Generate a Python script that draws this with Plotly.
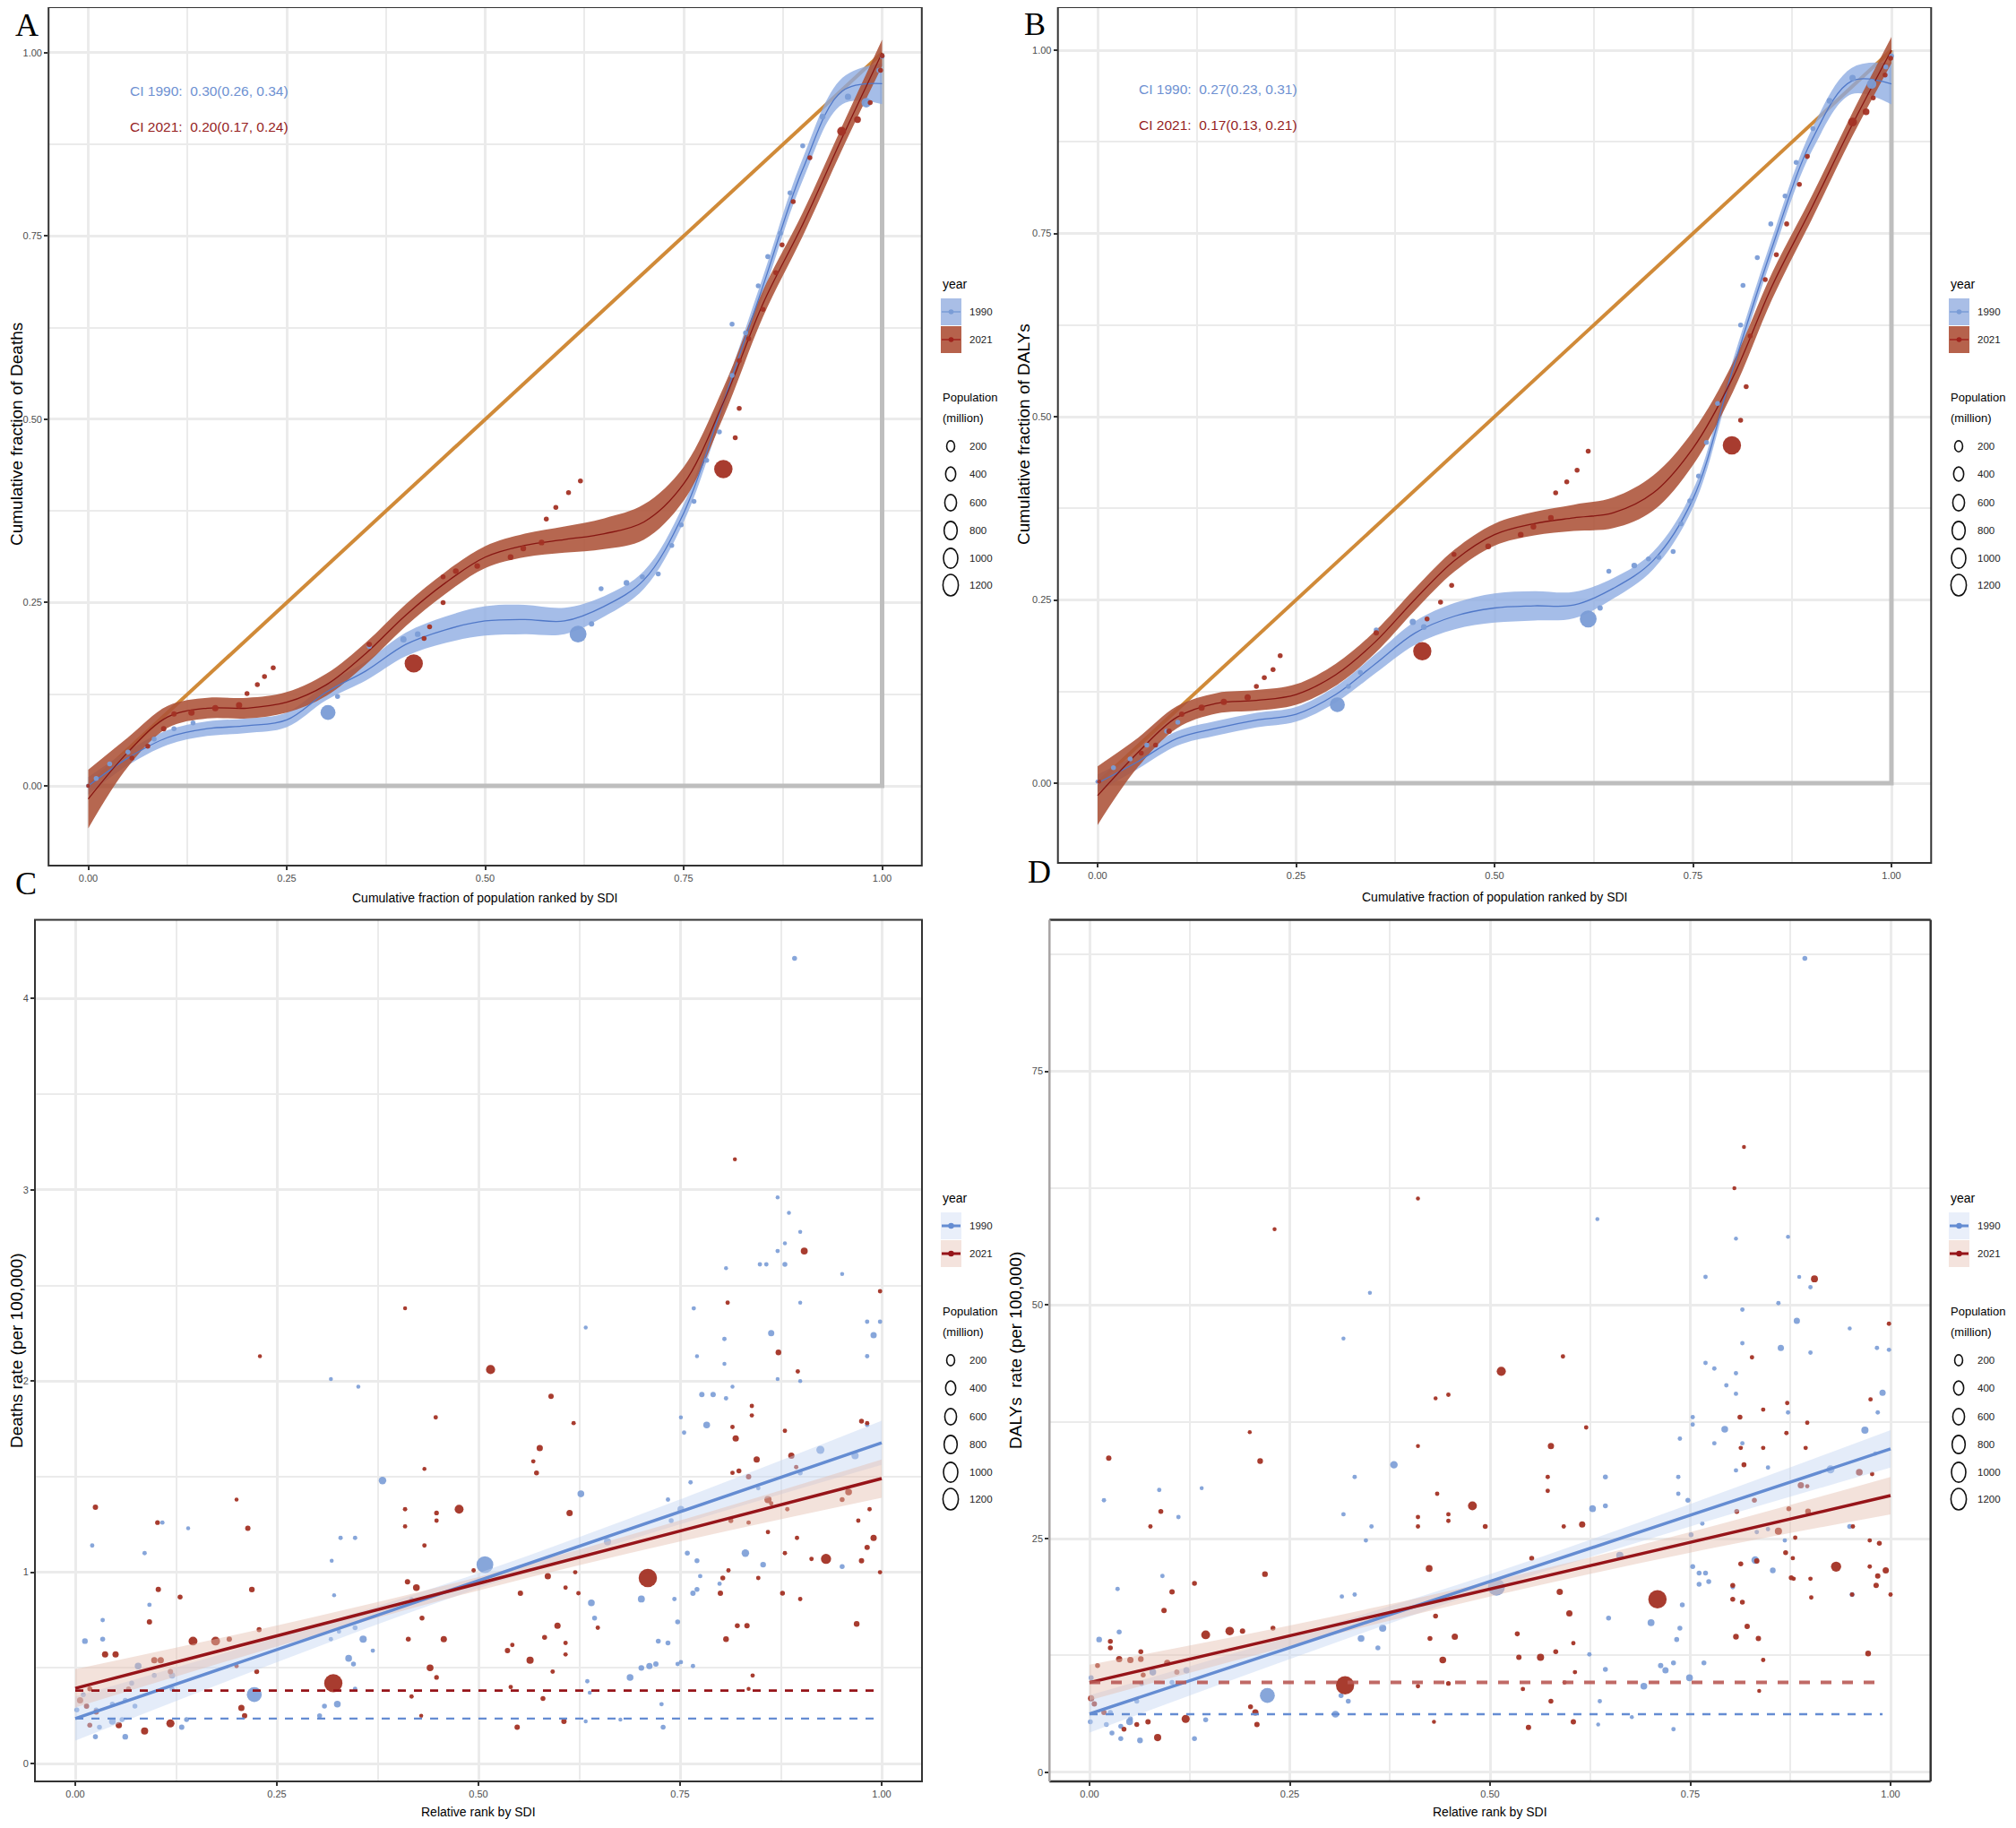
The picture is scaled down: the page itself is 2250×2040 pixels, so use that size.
import math
import plotly.graph_objects as go

W, H, OFF = 2234, 2024, 8
def px_x(p): return (p - OFF) / W
def px_y(p): return 1 - (p - OFF) / H

SANS = "Liberation Sans, Arial, sans-serif"
SERIF = "Liberation Serif, Times New Roman, serif"

# ---------------- DATA ----------------
years = ["1990", "2021"]
ci_text_a = ["CI 1990:\u00a0 0.30(0.26, 0.34)", "CI 2021:\u00a0 0.20(0.17, 0.24)"]
ci_text_b = ["CI 1990:\u00a0 0.27(0.23, 0.31)", "CI 2021:\u00a0 0.17(0.13, 0.21)"]
size_legend_pop = [200, 400, 600, 800, 1000, 1200]

equality_x = [0, 1]
equality_y = [0, 1]
frame_x = [0, 1, 1]
frame_y = [0, 0, 1]

fit_grid = [0.00, 0.05, 0.10, 0.15, 0.20, 0.25, 0.30, 0.35, 0.40, 0.45, 0.50,
            0.55, 0.60, 0.65, 0.70, 0.75, 0.80, 0.85, 0.90, 0.95, 1.00]
a_fit_1990 = [0.000, 0.038, 0.066, 0.078, 0.082, 0.090, 0.128, 0.157, 0.193, 0.213, 0.225,
              0.227, 0.225, 0.245, 0.281, 0.372, 0.523, 0.682, 0.841, 0.948, 0.958]
a_half_1990 = [0.012, 0.010, 0.010, 0.010, 0.010, 0.010, 0.011, 0.013, 0.016, 0.018, 0.020,
               0.020, 0.018, 0.014, 0.012, 0.012, 0.012, 0.013, 0.015, 0.018, 0.028]
a_fit_2021 = [-0.018, 0.046, 0.094, 0.106, 0.106, 0.114, 0.138, 0.181, 0.233, 0.277, 0.312,
              0.328, 0.336, 0.344, 0.360, 0.412, 0.523, 0.658, 0.766, 0.885, 1.000]
a_half_2021 = [0.040, 0.020, 0.015, 0.014, 0.014, 0.014, 0.015, 0.015, 0.015, 0.015, 0.015,
               0.016, 0.018, 0.021, 0.024, 0.023, 0.020, 0.018, 0.016, 0.016, 0.018]
b_fit_1990 = [0.000, 0.029, 0.061, 0.075, 0.086, 0.094, 0.121, 0.163, 0.205, 0.228, 0.239,
              0.242, 0.243, 0.266, 0.304, 0.388, 0.564, 0.732, 0.878, 0.958, 0.954]
b_half_1990 = a_half_1990
b_fit_2021 = [-0.017, 0.041, 0.090, 0.109, 0.113, 0.121, 0.148, 0.193, 0.251, 0.304, 0.339,
              0.354, 0.362, 0.369, 0.396, 0.457, 0.553, 0.679, 0.786, 0.897, 1.000]
b_half_2021 = a_half_2021

a_1990_x = [0.0, 0.01, 0.027, 0.05, 0.083, 0.108, 0.132, 0.302, 0.314, 0.354, 0.397, 0.415, 0.617, 0.634,
            0.646, 0.678, 0.698, 0.718, 0.735, 0.747, 0.763, 0.779, 0.795, 0.811, 0.811, 0.828, 0.844,
            0.856, 0.872, 0.884, 0.9, 0.925, 0.957, 0.98, 0.996, 1.0]
a_1990_y = [0.0, 0.01, 0.03, 0.046, 0.064, 0.078, 0.086, 0.1, 0.122, 0.19, 0.2, 0.207, 0.207, 0.221,
            0.269, 0.277, 0.285, 0.289, 0.328, 0.356, 0.388, 0.444, 0.483, 0.56, 0.63, 0.618, 0.682,
            0.722, 0.754, 0.809, 0.873, 0.913, 0.94, 0.932, 0.976, 0.995]
a_1990_pop = [10, 20, 20, 20, 20, 20, 20, 850, 20, 20, 60, 40, 1150, 30, 20, 40, 20, 20, 20, 20, 20,
              20, 20, 20, 20, 20, 20, 20, 20, 20, 20, 40, 60, 250, 20, 20]
a_2021_x = [0.0, 0.055, 0.075, 0.095, 0.108, 0.13, 0.16, 0.19, 0.2, 0.213, 0.222, 0.233, 0.354, 0.41,
            0.423, 0.43, 0.447, 0.447, 0.463, 0.49, 0.532, 0.548, 0.571, 0.577, 0.589, 0.605, 0.62,
            0.80, 0.815, 0.82, 0.82, 0.832, 0.85, 0.866, 0.874, 0.888, 0.909, 0.949, 0.969, 0.985,
            0.998, 1.0]
a_2021_y = [0.0, 0.038, 0.054, 0.078, 0.098, 0.1, 0.106, 0.11, 0.126, 0.138, 0.149, 0.161, 0.193, 0.167,
            0.201, 0.217, 0.25, 0.285, 0.293, 0.3, 0.312, 0.324, 0.332, 0.364, 0.38, 0.4, 0.416,
            0.432, 0.475, 0.515, 0.58, 0.61, 0.65, 0.70, 0.738, 0.797, 0.857, 0.893, 0.909, 0.932,
            0.976, 0.996]
a_2021_pop = [5, 20, 20, 30, 30, 60, 60, 60, 20, 20, 20, 20, 30, 1400, 20, 20, 20, 20, 40, 40, 40, 40,
              40, 20, 20, 20, 20, 1420, 20, 20, 20, 20, 20, 20, 20, 20, 20, 200, 80, 20, 20, 20]

b_1990_x = [0.0, 0.02, 0.041, 0.062, 0.087, 0.101, 0.302, 0.316, 0.331, 0.351, 0.397, 0.411, 0.618,
            0.633, 0.644, 0.676, 0.694, 0.707, 0.725, 0.735, 0.746, 0.757, 0.767, 0.781, 0.81, 0.813,
            0.831, 0.848, 0.866, 0.88, 0.901, 0.922, 0.951, 0.975, 0.993, 1.0]
b_1990_y = [0.002, 0.021, 0.033, 0.052, 0.071, 0.083, 0.107, 0.132, 0.151, 0.209, 0.22, 0.213, 0.224,
            0.239, 0.289, 0.297, 0.306, 0.308, 0.316, 0.354, 0.385, 0.419, 0.465, 0.518, 0.625, 0.679,
            0.717, 0.763, 0.801, 0.847, 0.893, 0.931, 0.962, 0.954, 0.977, 0.992]
b_1990_pop = [10, 20, 20, 20, 20, 20, 850, 20, 20, 20, 60, 40, 1150, 30, 20, 40, 20, 20, 20, 20, 20,
              20, 20, 20, 20, 20, 20, 20, 20, 20, 20, 40, 60, 250, 20, 20]
b_2021_x = [0.002, 0.055, 0.073, 0.09, 0.106, 0.131, 0.159, 0.189, 0.2, 0.21, 0.221, 0.23, 0.351, 0.409,
            0.415, 0.432, 0.446, 0.449, 0.492, 0.533, 0.549, 0.571, 0.577, 0.591, 0.604, 0.618, 0.799,
            0.81, 0.817, 0.822, 0.841, 0.855, 0.868, 0.884, 0.894, 0.951, 0.968, 0.977, 0.992, 0.999]
b_2021_y = [0.002, 0.041, 0.052, 0.071, 0.094, 0.103, 0.111, 0.117, 0.132, 0.144, 0.155, 0.174, 0.205,
            0.18, 0.224, 0.247, 0.27, 0.312, 0.323, 0.339, 0.35, 0.362, 0.396, 0.411, 0.427, 0.453,
            0.461, 0.495, 0.541, 0.61, 0.687, 0.721, 0.763, 0.817, 0.855, 0.902, 0.916, 0.935, 0.966,
            0.989]
b_2021_pop = [5, 20, 20, 30, 30, 60, 60, 60, 20, 20, 20, 20, 30, 1400, 20, 20, 20, 20, 40, 40, 40, 40,
              20, 20, 20, 20, 1420, 20, 20, 20, 20, 20, 20, 20, 20, 200, 80, 20, 20, 20]

# Panel C: deaths rate vs relative SDI rank
c_2021_x = [0.025, 0.102, 0.214, 0.2, 0.229, 0.409, 0.515, 0.447, 0.818, 0.904, 0.872, 0.896, 0.809, 0.998,
            0.59, 0.618, 0.576, 0.572, 0.568, 0.476, 0.613, 0.448, 0.448, 0.409, 0.409, 0.433, 0.433, 0.103,
            0.13, 0.219, 0.412, 0.423, 0.494, 0.586, 0.552, 0.608, 0.624, 0.71, 0.32, 0.146, 0.174, 0.191,
            0.037, 0.05, 0.092, 0.098, 0.106, 0.118, 0.066, 0.018, 0.006, 0.014, 0.026, 0.018, 0.054, 0.086,
            0.118, 0.206, 0.21, 0.225, 0.228, 0.2, 0.413, 0.43, 0.457, 0.44, 0.448, 0.417, 0.429, 0.536,
            0.542, 0.564, 0.582, 0.592, 0.58, 0.598, 0.608, 0.608, 0.606, 0.548, 0.54, 0.807, 0.821, 0.833,
            0.803, 0.81, 0.8, 0.835, 0.813, 0.859, 0.847, 0.877, 0.899, 0.88, 0.895, 0.913, 0.931, 0.951,
            0.959, 0.971, 0.975, 0.982, 0.99, 0.969, 0.998, 0.985, 0.975, 0.982, 0.835, 0.84, 0.894, 0.888,
            0.88, 0.819, 0.815, 0.823, 0.835, 0.845, 0.815, 0.839, 0.839, 0.863, 0.859, 0.883, 0.648, 0.62]
c_2021_y = [1.34, 1.26, 1.23, 1.38, 2.13, 2.38, 2.06, 1.81, 3.16, 2.68, 2.15, 2.05, 2.41, 2.47,
            1.92, 1.78, 1.65, 1.52, 1.58, 1.33, 1.31, 1.31, 1.27, 1.33, 1.24, 1.54, 1.14, 0.91,
            0.87, 0.91, 0.95, 0.92, 1.01, 0.98, 0.89, 0.92, 0.89, 0.97, 0.42, 0.64, 0.64, 0.65,
            0.57, 0.57, 0.74, 0.54, 0.54, 0.48, 0.39, 0.39, 0.33, 0.30, 0.27, 0.20, 0.20, 0.17,
            0.21, 0.29, 0.25, 0.48, 0.70, 0.51, 0.65, 0.76, 0.65, 0.50, 0.45, 0.35, 0.25, 0.59,
            0.62, 0.54, 0.66, 0.48, 0.34, 0.72, 0.63, 0.57, 0.22, 0.19, 0.40, 0.65, 0.72, 0.72,
            0.97, 1.01, 0.89, 1.26, 1.27, 1.38, 0.97, 0.89, 0.86, 1.10, 1.18, 1.07, 1.07, 1.38,
            1.42, 1.27, 1.06, 1.13, 1.18, 0.73, 1.00, 1.33, 1.79, 1.78, 0.39, 0.46, 1.55, 1.61,
            1.74, 1.70, 1.76, 1.53, 1.50, 1.59, 1.52, 1.82, 1.87, 1.36, 1.21, 1.33, 0.71, 1.00]
c_2021_pop = [30, 15, 30, 5, 5, 5, 220, 10, 5, 90, 40, 10, 10, 10,
              30, 10, 60, 20, 10, 200, 60, 15, 10, 10, 10, 5, 10, 30,
              20, 40, 30, 80, 10, 60, 30, 10, 10, 1420, 1400, 200, 200, 30,
              60, 60, 30, 60, 60, 30, 20, 20, 60, 30, 30, 20, 60, 100,
              150, 60, 30, 20, 20, 10, 20, 20, 60, 80, 15, 10, 5, 30,
              10, 100, 20, 10, 20, 60, 10, 10, 30, 30, 10, 40, 20, 30,
              20, 10, 30, 10, 20, 100, 10, 20, 10, 10, 10, 10, 300, 20,
              80, 10, 30, 30, 60, 40, 10, 10, 20, 10, 5, 10, 10, 60,
              10, 60, 10, 20, 30, 60, 10, 10, 10, 10, 10, 10, 10, 10]

c_1990_x = [0.892, 0.871, 0.885, 0.899, 0.88, 0.871, 0.857, 0.849, 0.88, 0.807, 0.951, 0.899, 0.767, 0.982,
            0.998, 0.99, 0.863, 0.633, 0.805, 0.771, 0.982, 0.805, 0.317, 0.351, 0.871, 0.899, 0.777, 0.791,
            0.807, 0.815, 0.751, 0.755, 0.783, 0.982, 0.924, 0.967, 0.899, 0.381, 0.763, 0.751, 0.735, 0.739,
            0.847, 0.627, 0.66, 0.508, 0.329, 0.347, 0.318, 0.831, 0.853, 0.759, 0.771, 0.951, 0.775, 0.799,
            0.766, 0.771, 0.702, 0.64, 0.644, 0.743, 0.747, 0.735, 0.723, 0.72, 0.702, 0.712, 0.747, 0.751,
            0.766, 0.688, 0.727, 0.729, 0.676, 0.633, 0.635, 0.638, 0.347, 0.325, 0.309, 0.303, 0.222, 0.339,
            0.357, 0.345, 0.347, 0.317, 0.327, 0.321, 0.369, 0.417, 0.012, 0.021, 0.034, 0.034, 0.086, 0.108,
            0.14, 0.092, 0.078, 0.098, 0.12, 0.07, 0.062, 0.058, 0.046, 0.03, 0.025, 0.01, 0.026, 0.046,
            0.062, 0.074, 0.002, 0.138, 0.132, 0.12]
c_1990_y = [4.21, 2.96, 2.88, 2.78, 2.72, 2.68, 2.61, 2.61, 2.61, 2.59, 2.56, 2.41, 2.38, 2.31,
            2.31, 2.24, 2.25, 2.28, 2.22, 2.13, 2.13, 2.09, 2.01, 1.97, 2.01, 2.00, 1.93, 1.93,
            1.91, 1.97, 1.81, 1.73, 1.77, 1.77, 1.64, 1.61, 1.52, 1.48, 1.47, 1.33, 1.38, 1.27,
            1.44, 1.41, 1.16, 1.04, 1.18, 1.18, 1.06, 1.10, 1.04, 1.10, 1.06, 1.03, 0.98, 0.94,
            0.89, 0.91, 0.86, 0.84, 0.76, 0.86, 0.74, 0.63, 0.64, 0.52, 0.50, 0.51, 0.52, 0.53,
            0.51, 0.45, 0.31, 0.19, 0.23, 0.22, 0.43, 0.37, 0.39, 0.31, 0.30, 0.25, 0.36, 0.55,
            0.65, 0.52, 0.71, 0.65, 0.69, 0.88, 0.59, 0.86, 0.64, 1.14, 0.65, 0.75, 1.10, 1.26,
            1.23, 0.83, 0.51, 0.46, 0.46, 0.42, 0.33, 0.23, 0.22, 0.19, 0.14, 0.36, 0.28, 0.31,
            0.14, 0.30, 0.28, 0.23, 0.19, 0.39]
c_1990_pop = [20, 5, 5, 5, 5, 10, 10, 10, 20, 5, 5, 5, 10, 10,
              10, 60, 60, 5, 10, 5, 10, 5, 5, 5, 5, 5, 30, 30,
              10, 5, 5, 10, 80, 10, 150, 100, 20, 120, 10, 80, 10, 20,
              10, 80, 100, 1150, 10, 10, 5, 120, 40, 20, 20, 20, 10, 10,
              30, 20, 90, 80, 20, 10, 20, 20, 20, 30, 40, 60, 10, 10,
              10, 80, 10, 20, 5, 5, 10, 5, 10, 80, 20, 20, 850, 80,
              100, 20, 20, 10, 10, 5, 10, 5, 40, 10, 20, 10, 10, 10,
              5, 10, 80, 20, 60, 20, 20, 20, 80, 20, 20, 20, 20, 20,
              40, 20, 20, 20, 30, 20]

# Panel D: DALYs rate vs relative SDI rank
d_2021_x = [0.817, 0.805, 0.41, 0.231, 0.905, 0.514, 0.591, 0.998, 0.827, 0.812, 0.871, 0.975, 0.432, 0.448,
            0.841, 0.2, 0.213, 0.024, 0.576, 0.62, 0.41, 0.896, 0.87, 0.813, 0.841, 0.894, 0.817, 0.961,
            0.977, 0.572, 0.572, 0.888, 0.896, 0.83, 0.808, 0.873, 0.897, 0.478, 0.434, 0.448, 0.448, 0.41,
            0.41, 0.494, 0.615, 0.592, 0.089, 0.076, 0.86, 0.869, 0.881, 0.974, 0.986, 0.953, 0.424, 0.552,
            0.932, 0.994, 0.984, 0.974, 0.879, 0.9, 0.878, 0.833, 0.813, 0.803, 0.982, 1.0, 0.952, 0.901,
            0.709, 0.319, 0.145, 0.175, 0.191, 0.229, 0.131, 0.103, 0.093, 0.219, 0.037, 0.051, 0.064, 0.064,
            0.026, 0.026, 0.097, 0.109, 0.067, 0.01, 0.002, 0.006, 0.018, 0.043, 0.059, 0.073, 0.085, 0.12,
            0.207, 0.209, 0.201, 0.425, 0.432, 0.456, 0.441, 0.41, 0.43, 0.448, 0.534, 0.536, 0.541, 0.548,
            0.563, 0.582, 0.576, 0.587, 0.599, 0.604, 0.606, 0.604, 0.593, 0.807, 0.821, 0.835, 0.803, 0.815,
            0.836, 0.841, 0.876, 0.972]
d_2021_y = [66.9, 62.5, 61.4, 58.1, 52.8, 42.9, 44.5, 48.0, 44.4, 38.0, 39.5, 39.9, 40.0, 40.4,
            38.8, 36.4, 33.3, 33.6, 34.9, 36.9, 34.9, 37.4, 36.3, 34.7, 34.7, 34.7, 32.9, 32.1,
            31.9, 31.6, 30.1, 30.7, 30.6, 29.1, 27.9, 28.2, 27.9, 28.5, 29.8, 27.6, 26.9, 27.3,
            26.3, 26.3, 26.5, 26.3, 27.9, 26.3, 25.8, 23.5, 25.1, 24.8, 24.5, 26.3, 21.8, 22.9,
            22.0, 21.6, 21.0, 22.0, 20.7, 20.7, 22.9, 22.6, 22.3, 20.0, 20.0, 19.0, 19.0, 18.7,
            18.5, 9.3, 14.7, 15.1, 15.1, 15.4, 20.2, 19.3, 17.3, 21.2, 12.1, 12.0, 12.1, 12.9,
            14.0, 13.3, 11.7, 10.7, 10.4, 11.4, 7.9, 7.3, 6.4, 4.6, 5.1, 5.4, 3.7, 5.7,
            6.4, 5.1, 7.0, 14.3, 16.7, 14.5, 12.0, 9.2, 5.4, 9.5, 14.8, 12.3, 8.9, 4.8,
            12.3, 12.9, 7.6, 19.3, 17.0, 13.8, 10.7, 5.4, 9.6, 14.5, 15.6, 14.3, 18.5, 18.2,
            8.7, 12.0, 20.8, 12.7]
d_2021_pop = [5, 5, 5, 5, 90, 220, 10, 10, 10, 20, 10, 10, 5, 10,
              10, 5, 40, 30, 60, 10, 5, 10, 10, 10, 10, 10, 20, 80,
              10, 10, 10, 60, 10, 20, 20, 20, 40, 200, 10, 10, 10, 10,
              10, 20, 60, 10, 20, 10, 100, 20, 10, 10, 20, 10, 80, 20,
              300, 60, 30, 10, 10, 10, 10, 30, 20, 20, 30, 10, 10, 10,
              1420, 1400, 200, 180, 30, 20, 20, 30, 30, 40, 60, 60, 40, 20,
              20, 20, 60, 30, 20, 20, 60, 30, 30, 20, 20, 30, 100, 150,
              60, 30, 20, 20, 20, 60, 80, 10, 5, 15, 20, 30, 10, 30,
              100, 20, 20, 60, 60, 10, 10, 30, 10, 40, 30, 30, 20, 20,
              5, 10, 20, 40]

d_1990_x = [0.893, 0.872, 0.807, 0.886, 0.9, 0.634, 0.769, 0.86, 0.815, 0.35, 0.883, 0.815, 0.863, 0.9,
            0.949, 0.983, 0.998, 0.317, 0.769, 0.78, 0.99, 0.807, 0.795, 0.807, 0.872, 0.984, 0.968, 0.793,
            0.753, 0.753, 0.78, 0.815, 0.737, 0.925, 0.38, 0.981, 0.807, 0.847, 0.735, 0.735, 0.747, 0.331,
            0.628, 0.644, 0.644, 0.765, 0.751, 0.949, 0.847, 0.833, 0.868, 0.662, 0.831, 0.853, 0.753, 0.761,
            0.769, 0.773, 0.761, 0.803, 0.952, 0.508, 0.317, 0.315, 0.331, 0.352, 0.345, 0.339, 0.366, 0.36,
            0.314, 0.307, 0.323, 0.222, 0.701, 0.74, 0.737, 0.733, 0.719, 0.713, 0.729, 0.749, 0.767, 0.692,
            0.637, 0.635, 0.677, 0.729, 0.648, 0.624, 0.644, 0.012, 0.018, 0.035, 0.037, 0.087, 0.111, 0.14,
            0.091, 0.079, 0.121, 0.103, 0.065, 0.059, 0.051, 0.05, 0.039, 0.028, 0.021, 0.001, 0.002, 0.026,
            0.063, 0.039, 0.131, 0.145]
d_1990_y = [87.1, 57.3, 57.1, 53.0, 51.9, 59.2, 53.0, 50.2, 49.5, 51.3, 48.3, 45.9, 45.4, 44.9,
            47.5, 45.4, 45.2, 46.4, 43.8, 43.2, 40.6, 40.5, 41.4, 42.7, 38.5, 38.5, 36.6, 36.7,
            38.0, 37.2, 35.2, 35.2, 35.7, 32.4, 32.9, 34.1, 32.3, 32.6, 31.6, 29.8, 29.1, 31.6,
            28.2, 31.6, 28.5, 26.6, 25.4, 26.3, 26.0, 25.7, 24.8, 23.2, 22.7, 21.6, 22.0, 21.3,
            21.3, 20.4, 20.1, 19.8, 19.0, 19.8, 27.6, 18.8, 19.0, 26.3, 24.8, 14.3, 15.4, 13.3,
            8.2, 6.2, 7.6, 8.2, 16.0, 17.9, 15.4, 14.2, 10.9, 11.4, 11.7, 10.1, 11.7, 9.2,
            7.6, 5.1, 5.9, 4.6, 16.5, 12.6, 11.0, 14.2, 29.1, 19.6, 15.0, 30.2, 27.3, 30.4,
            21.0, 10.7, 10.9, 9.6, 9.5, 7.6, 5.7, 5.4, 4.9, 4.2, 5.1, 5.4, 10.1, 6.4,
            3.4, 3.6, 3.6, 5.6]
d_1990_pop = [20, 5, 5, 5, 10, 5, 10, 10, 10, 5, 60, 10, 60, 10,
              5, 10, 10, 5, 10, 10, 60, 10, 10, 10, 10, 10, 100, 80,
              10, 10, 10, 10, 10, 150, 120, 10, 10, 10, 10, 10, 20, 10,
              80, 20, 20, 10, 20, 20, 10, 10, 10, 100, 120, 40, 20, 20,
              20, 20, 20, 10, 20, 1150, 10, 10, 10, 10, 10, 80, 100, 20,
              20, 80, 20, 850, 90, 20, 20, 20, 60, 30, 20, 80, 20, 80,
              10, 5, 5, 10, 20, 10, 20, 40, 10, 10, 20, 10, 10, 5,
              10, 80, 60, 20, 20, 20, 20, 80, 20, 20, 20, 20, 20, 20,
              40, 20, 20, 20]

# linear fits
lin_grid = [0.0, 0.25, 0.5, 0.75, 1.0]
c_lin_1990 = [0.235, 0.595, 0.956, 1.316, 1.677]
c_lhalf_1990 = [0.115, 0.065, 0.040, 0.065, 0.115]
c_lin_2021 = [0.393, 0.667, 0.940, 1.216, 1.490]
c_lhalf_2021 = [0.100, 0.055, 0.035, 0.055, 0.100]
d_lin_1990 = [6.24, 13.3, 20.4, 27.5, 34.6]
d_lhalf_1990 = [2.0, 1.2, 0.8, 1.2, 2.0]
d_lin_2021 = [9.6, 14.6, 19.6, 24.6, 29.6]
d_lhalf_2021 = [1.9, 1.1, 0.8, 1.1, 2.0]
ref_x = [0.0, 0.99]
c_ref_1990 = [0.235, 0.235]
c_ref_2021 = [0.381, 0.381]
d_ref_1990 = [6.2, 6.2]
d_ref_2021 = [9.6, 9.6]

# ---------------- STYLE ----------------
BLUE_PT = "rgb(122,156,214)"
RED_PT = "rgb(163,50,36)"
BLUE_RIB_A = "rgba(140,170,226,0.78)"
RED_RIB_A = "rgba(172,82,56,0.88)"
BLUE_LINE_A = "rgb(80,120,200)"
RED_LINE_A = "rgb(135,22,18)"
BLUE_RIB_C = "rgba(195,212,242,0.45)"
RED_RIB_C = "rgba(228,190,176,0.45)"
BLUE_LINE_C = "rgb(100,140,210)"
RED_LINE_C = "rgb(150,20,25)"
DIAG = "rgb(208,138,56)"
FRAME = "rgb(190,190,190)"

def msize(p):
    return 3.5 + 17.0 * math.sqrt(p / 1420.0)

fig = go.Figure()

def band(xa, ya, xs, fit, half, fill, shape):
    up = [f + h for f, h in zip(fit, half)]
    lo = [f - h for f, h in zip(fit, half)]
    fig.add_trace(go.Scatter(x=xs, y=lo, mode="lines", line=dict(width=0, shape=shape),
                             hoverinfo="skip", showlegend=False, xaxis=xa, yaxis=ya))
    fig.add_trace(go.Scatter(x=xs, y=up, mode="lines", line=dict(width=0, shape=shape), fill="tonexty",
                             fillcolor=fill, hoverinfo="skip", showlegend=False, xaxis=xa, yaxis=ya))

def line(xa, ya, xs, ys, color, width, dash="solid", shape="linear"):
    fig.add_trace(go.Scatter(x=xs, y=ys, mode="lines", line=dict(color=color, width=width, dash=dash, shape=shape),
                             hoverinfo="skip", showlegend=False, xaxis=xa, yaxis=ya))

def pts(xa, ya, xs, ys, pops, color, op=0.95):
    fig.add_trace(go.Scatter(x=xs, y=ys, mode="markers",
                             marker=dict(size=[msize(p) for p in pops], color=color, opacity=op, line=dict(width=0)),
                             showlegend=False, xaxis=xa, yaxis=ya))

# Panels A & B (concentration curves)
for xa, ya, f90, h90, f21, h21, d90, d21 in [
    ("x", "y", a_fit_1990, a_half_1990, a_fit_2021, a_half_2021,
     (a_1990_x, a_1990_y, a_1990_pop), (a_2021_x, a_2021_y, a_2021_pop)),
    ("x2", "y2", b_fit_1990, b_half_1990, b_fit_2021, b_half_2021,
     (b_1990_x, b_1990_y, b_1990_pop), (b_2021_x, b_2021_y, b_2021_pop))]:
    line(xa, ya, frame_x, frame_y, FRAME, 5)
    line(xa, ya, equality_x, equality_y, DIAG, 4)
    band(xa, ya, fit_grid, f90, h90, BLUE_RIB_A, "spline")
    band(xa, ya, fit_grid, f21, h21, RED_RIB_A, "spline")
    line(xa, ya, fit_grid, f90, BLUE_LINE_A, 1.3, shape="spline")
    line(xa, ya, fit_grid, f21, RED_LINE_A, 1.3, shape="spline")
    pts(xa, ya, *d90, BLUE_PT)
    pts(xa, ya, *d21, RED_PT)

# Panels C & D (regression)
for xa, ya, d90, d21, l90, lh90, l21, lh21, r90, r21, dw in [
    ("x3", "y3", (c_1990_x, c_1990_y, c_1990_pop), (c_2021_x, c_2021_y, c_2021_pop),
     c_lin_1990, c_lhalf_1990, c_lin_2021, c_lhalf_2021, c_ref_1990, c_ref_2021, (2.2, 2.8)),
    ("x4", "y4", (d_1990_x, d_1990_y, d_1990_pop), (d_2021_x, d_2021_y, d_2021_pop),
     d_lin_1990, d_lhalf_1990, d_lin_2021, d_lhalf_2021, d_ref_1990, d_ref_2021, (2.6, 4.0))]:
    pts(xa, ya, *d90, BLUE_PT, 0.9)
    pts(xa, ya, *d21, RED_PT, 0.95)
    band(xa, ya, lin_grid, l90, lh90, BLUE_RIB_C, "spline")
    band(xa, ya, lin_grid, l21, lh21, RED_RIB_C, "spline")
    line(xa, ya, lin_grid, l90, BLUE_LINE_C, 3.5)
    line(xa, ya, lin_grid, l21, RED_LINE_C, 3.5)
    red_dash = RED_LINE_C if xa == "x3" else "rgba(185,90,85,0.9)"
    line(xa, ya, ref_x, r90, BLUE_LINE_C, dw[0], dash="dash")
    line(xa, ya, ref_x, r21, red_dash, dw[1], dash="dash")

# ---------------- AXES ----------------
def axis(dom, rng, dtick, minor, fmt, anchor):
    return dict(domain=dom, range=rng, tickmode="linear", tick0=0, dtick=dtick, tickformat=fmt,
                showgrid=True, gridcolor="#EBEBEB", gridwidth=3,
                minor=dict(tick0=0, dtick=minor, showgrid=True, gridcolor="#EBEBEB", gridwidth=1.5),
                zeroline=False, showline=False, ticks="outside", ticklen=4, tickwidth=1.5,
                tickcolor="#333333", tickfont=dict(family=SANS, size=11, color="#4D4D4D"),
                anchor=anchor, fixedrange=True)

XR = [-0.05, 1.05]
dom = {
    "A": ([px_x(54.2), px_x(1028.8)], [px_y(966), 1.0], [-0.1088, 1.0623]),
    "B": ([px_x(1180.7), px_x(2155.3)], [px_y(963), 1.0], [-0.1088, 1.0587]),
    "C": ([px_x(39), px_x(1029)], [px_y(1988), px_y(1026.5)], [-0.0937, 4.412]),
    "D": ([px_x(1171.3), px_x(2154.7)], [px_y(1988), px_y(1026.5)], [-0.988, 91.22]),
}
layout = dict(width=W, height=H, margin=dict(l=0, r=0, t=0, b=0), paper_bgcolor="white",
              plot_bgcolor="white", showlegend=False)
layout["xaxis"] = axis(dom["A"][0], XR, 0.25, 0.125, ".2f", "y")
layout["yaxis"] = axis(dom["A"][1], dom["A"][2], 0.25, 0.125, ".2f", "x")
layout["xaxis2"] = axis(dom["B"][0], XR, 0.25, 0.125, ".2f", "y2")
layout["yaxis2"] = axis(dom["B"][1], dom["B"][2], 0.25, 0.125, ".2f", "x2")
layout["xaxis3"] = axis(dom["C"][0], XR, 0.25, 0.125, ".2f", "y3")
layout["yaxis3"] = axis(dom["C"][1], dom["C"][2], 1, 0.5, "d", "x3")
layout["xaxis4"] = axis(dom["D"][0], XR, 0.25, 0.125, ".2f", "y4")
layout["yaxis4"] = axis(dom["D"][1], dom["D"][2], 25, 12.5, "d", "x4")
fig.update_layout(**layout)

shapes = []
ann = []

# panel borders
for k in ["A", "B", "C"]:
    xd, yd, _ = dom[k]
    shapes.append(dict(type="rect", xref="paper", yref="paper", x0=xd[0], x1=xd[1], y0=yd[0], y1=yd[1],
                       line=dict(color="#333333", width=2), layer="above"))
xd, yd, _ = dom["D"]
for (x0, y0, x1, y1, c) in [(xd[0], yd[0], xd[1], yd[0], "#333333"), (xd[0], yd[1], xd[1], yd[1], "#333333"),
                            (xd[1], yd[0], xd[1], yd[1], "#333333"), (xd[0], yd[0], xd[0], yd[1], "#A8A4A4")]:
    shapes.append(dict(type="line", xref="paper", yref="paper", x0=x0, y0=y0, x1=x1, y1=y1,
                       line=dict(color=c, width=2.5), layer="above"))

def text(x, y, s, size, color="black", family=SANS, xanchor="left", angle=0):
    ann.append(dict(x=px_x(x), y=px_y(y), xref="paper", yref="paper", text=s, showarrow=False,
                    xanchor=xanchor, yanchor="middle", textangle=angle,
                    font=dict(family=family, size=size, color=color)))

# panel letters
for s, x, y in [("A", 30, 28), ("B", 1155, 27), ("C", 29, 986), ("D", 1160, 973)]:
    text(x, y, s, 36, family=SERIF, xanchor="center")

# CI annotations
text(143, 101, ci_text_a[0], 15.5, "rgb(110,145,210)")
text(143, 142, ci_text_a[1], 15.5, "rgb(150,30,30)")
text(1269, 99, ci_text_b[0], 15.5, "rgb(110,145,210)")
text(1269, 139, ci_text_b[1], 15.5, "rgb(150,30,30)")

# axis titles
text(541, 1002, "Cumulative fraction of population ranked by SDI", 14, xanchor="center")
text(1668, 1001, "Cumulative fraction of population ranked by SDI", 14, xanchor="center")
text(534, 2022, "Relative rank by SDI", 14, xanchor="center")
text(1663, 2022, "Relative rank by SDI", 14, xanchor="center")
text(18, 485, "Cumulative fraction of Deaths", 19, xanchor="center", angle=-90)
text(1142, 485, "Cumulative fraction of DALYs", 19, xanchor="center", angle=-90)
text(18, 1507, "Deaths rate (per 100,000)", 19, xanchor="center", angle=-90)
text(1133, 1507, "DALYs\u00a0 rate (per 100,000)", 19, xanchor="center", angle=-90)

# legends
def legend(x0, dy, light):
    text(x0, 317 + dy, "year", 14)
    for i, (yr, c_rect, c_line) in enumerate([
            ("1990", "rgb(233,239,250)" if light else "rgb(169,190,230)", BLUE_LINE_C if light else BLUE_PT),
            ("2021", "rgb(244,227,221)" if light else "rgb(182,98,76)", RED_LINE_C if light else "rgb(160,35,28)")]):
        ytop = 333 + 31 * i + dy
        yc = ytop + 15
        shapes.append(dict(type="rect", xref="paper", yref="paper", x0=px_x(x0), x1=px_x(x0 + 23),
                           y0=px_y(ytop + 30), y1=px_y(ytop), line=dict(width=0), fillcolor=c_rect))
        shapes.append(dict(type="line", xref="paper", yref="paper", x0=px_x(x0 + 1), x1=px_x(x0 + 22),
                           y0=px_y(yc), y1=px_y(yc), line=dict(color=c_line, width=3 if light else 1.5)))
        r = 3.2 if light else 2.8
        shapes.append(dict(type="circle", xref="paper", yref="paper", x0=px_x(x0 + 11.5 - r), x1=px_x(x0 + 11.5 + r),
                           y0=px_y(yc + r), y1=px_y(yc - r), line=dict(width=0), fillcolor=c_line))
        text(x0 + 30, yc, yr, 11.5, "#222222")
    text(x0, 443 + dy, "Population", 13)
    text(x0, 466 + dy, "(million)", 13)
    for p, yc in zip(size_legend_pop, [498, 529, 561, 592, 623, 653]):
        d = msize(p)
        w, h = 0.9 * d, 1.25 * d
        cx, cy = x0 + 11, yc + dy
        shapes.append(dict(type="circle", xref="paper", yref="paper", x0=px_x(cx - w / 2), x1=px_x(cx + w / 2),
                           y0=px_y(cy + h / 2), y1=px_y(cy - h / 2), line=dict(color="#111111", width=1.6)))
        text(x0 + 30, cy, str(p), 11.5, "#222222")

legend(1050, 0, False)
legend(2175, 0, False)
legend(1050, 1020, True)
legend(2175, 1020, True)

fig.update_layout(shapes=shapes, annotations=ann)
fig.write_html("out.html")
